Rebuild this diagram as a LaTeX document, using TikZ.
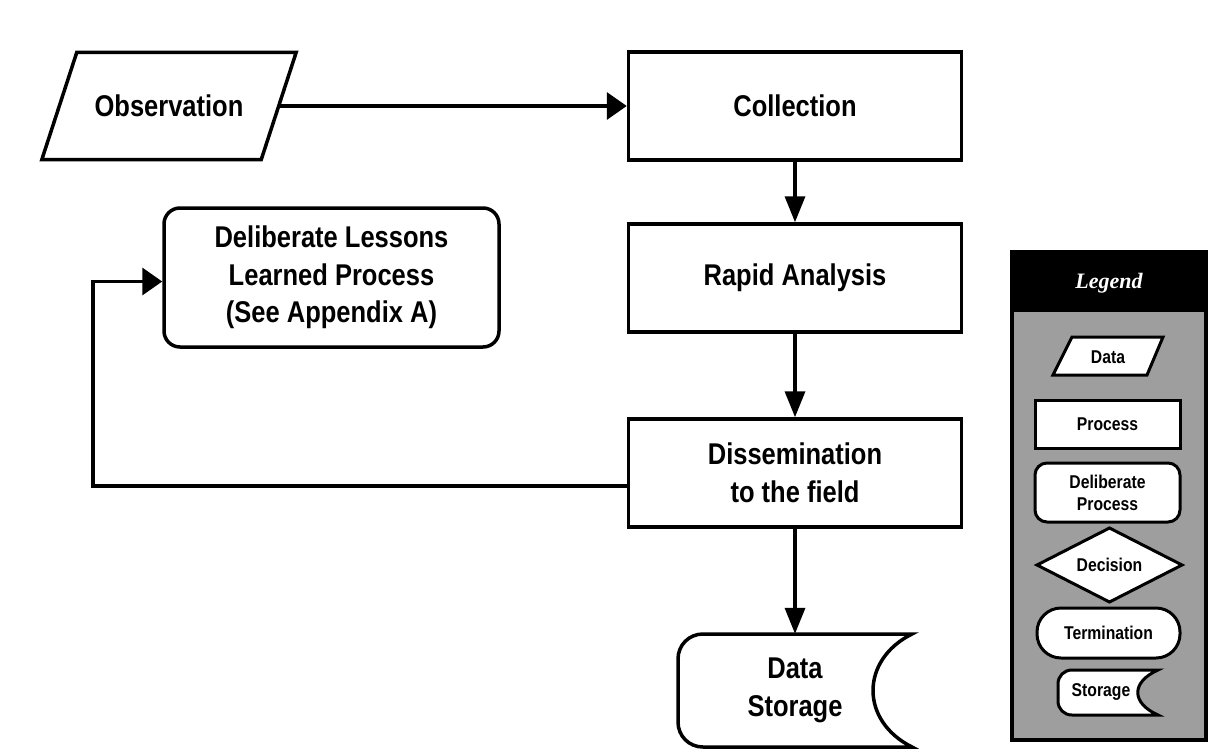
\documentclass[tikz,border=0pt]{standalone}
\usepackage{fontspec}
\setmainfont{Liberation Sans}[FakeStretch=0.85]
\newfontfamily\legendfont{Liberation Serif}
\usetikzlibrary{arrows.meta}

\tikzset{
  outline/.style={draw, line width=3.5pt, fill=white},
  procbox/.style={outline, minimum width=333pt, minimum height=108pt, inner sep=0pt},
  lbl/.style={font=\bfseries\fontsize{30}{37.5}\selectfont, align=center, inner sep=0pt},
  harrow/.style={line width=3.5pt, -{Triangle[length=20pt,width=27pt]}},
  varrow/.style={line width=3.5pt, -{Triangle[length=26pt,width=20pt]}},
  legline/.style={draw, line width=3pt, fill=white},
  leglbl/.style={font=\bfseries\fontsize{18.5}{22}\selectfont, align=center, inner sep=0pt},
}

\begin{document}
\begin{tikzpicture}[x=1pt,y=-1pt]
  \useasboundingbox[fill=white] (0,0) rectangle (1209,755);

  % ---- data input ----
  \node[lbl, minimum width=219pt, minimum height=107pt] (obs) at (169,106) {};
  \draw[outline] ([xshift=17.5pt]obs.north west) -- ([xshift=17.5pt]obs.north east)
        -- ([xshift=-17.5pt]obs.south east) -- ([xshift=-17.5pt]obs.south west) -- cycle;
  \node[lbl] (obst) at (obs.center) {Observation};

  % ---- processes ----
  \node[procbox, lbl] (coll)  at (795,106) {Collection};
  \node[procbox, lbl] (rapid) at (795,278) {Rapid Analysis};
  \node[procbox, lbl] (diss)  at (795,473) {Dissemination\\to the field};

  % ---- deliberate process ----
  \node[outline, lbl, rounded corners=16pt, minimum width=335pt, minimum height=139pt]
        (delib) at (331.5,277.5) {Deliberate Lessons\\Learned Process\\(See Appendix A)};

  % ---- storage ----
  \node[lbl, minimum width=234pt, minimum height=113pt] (store) at (795,690.5) {};
  \draw[outline] (912,634) -- (703,634) .. controls (689,634) and (678,645) .. (678,659)
        -- (678,722) .. controls (678,736) and (689,747) .. (703,747) -- (912,747)
        .. controls (860,721) and (860,660) .. (912,634) -- cycle;
  \node[lbl] (storet) at (store.center) {Data\\Storage};

  % ---- connectors ----
  \draw[harrow] (obs.east) -- (obs.east -| coll.west);
  \draw[varrow] (coll.south) -- (rapid.north);
  \draw[varrow] (rapid.south) -- (diss.north);
  \draw[varrow] (diss.south) -- (store.north);
  \coordinate (fb) at (93,486);
  \draw[harrow] (diss.west |- fb) -- (fb) |- ([yshift=-4pt]delib.west);

  % ---- legend ----
  \fill[black!38] (1012,312) rectangle (1206,740);
  \fill[black] (1012,252) rectangle (1206,312);
  \draw[line width=3.5pt] (1012,252) rectangle (1206,740);
  \node[text=white, inner sep=0pt, font=\legendfont\bfseries\itshape\fontsize{22}{26}\selectfont]
        (legt) at (1109,283) {Legend};

  \draw[legline] (1072,337) -- (1163,337) -- (1147,375) -- (1053,375) -- cycle;
  \node[leglbl] (ldata) at (1108,357) {Data};

  \node[legline, leglbl, minimum width=145pt, minimum height=48pt] (lproc) at (1107.5,424) {Process};

  \node[legline, leglbl, rounded corners=12pt, minimum width=145pt, minimum height=59pt]
        (ldelib) at (1107.5,492.5) {Deliberate\\Process};

  \draw[legline] (1037,565) -- (1109.5,528) -- (1182,565) -- (1109.5,602) -- cycle;
  \node[leglbl] (ldec) at (1109.5,565) {Decision};

  \node[legline, leglbl, rounded corners=24pt, minimum width=143pt, minimum height=50pt]
        (lterm) at (1108.5,633) {Termination};

  \draw[legline] (1158,670) -- (1072,670) .. controls (1064,670) and (1058,676) .. (1058,684)
        -- (1058,701) .. controls (1058,709) and (1064,715) .. (1072,715) -- (1158,715)
        .. controls (1131,703) and (1131,682) .. (1158,670) -- cycle;
  \node[leglbl] (lstore) at (1101,692) {Storage};
\end{tikzpicture}
\end{document}
